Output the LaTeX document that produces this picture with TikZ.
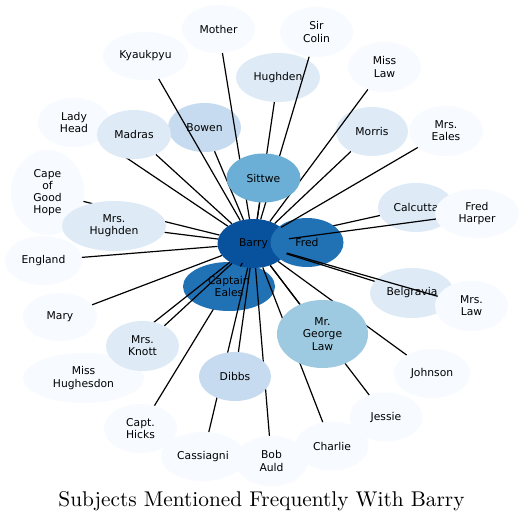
\documentclass[tikz,border=0pt]{standalone}
\usepackage{fontspec}
\usepackage{graphicx}
\usetikzlibrary{shapes.geometric}
\newfontfamily\nodefont{DejaVu Sans}
\definecolor{bA}{HTML}{08519C}
\definecolor{bB}{HTML}{2171B5}
\definecolor{bC}{HTML}{6BAED6}
\definecolor{bD}{HTML}{9ECAE1}
\definecolor{bE}{HTML}{C6DBEF}
\definecolor{bF}{HTML}{DEEBF7}
\definecolor{bG}{HTML}{F7FBFF}
\pgfdeclarelayer{back}
\pgfdeclarelayer{low}
\pgfdeclarelayer{mid}
\pgfsetlayers{back,low,mid,main}
\begin{document}
\begin{tikzpicture}[x=1bp,y=-1bp,
  nd/.style={ellipse, draw=none, inner sep=0pt, align=center,
    font=\nodefont\fontsize{10.8}{12.2}\selectfont, text=black},
  sz/.style 2 args={minimum width=#1*2bp, minimum height=#2*2bp},
  link/.style={draw=black, line width=1.2bp}]
\useasboundingbox (0,0) rectangle (524,522);
\begin{pgfonlayer}{back}
  \fill[white] (0,0) rectangle (524,522);
\end{pgfonlayer}

\begin{pgfonlayer}{low}
  \node[nd, fill=bB, sz={46}{24.5}] (captain) at (229,286.5) {Captain\\Eales};
  \node[nd, fill=bA, sz={36}{24.5}] (barry) at (253.5,243.5) {Barry};
  \node[nd, fill=bB, sz={36.5}{24.5}] (fred) at (307,242.5) {Fred};
  \node[nd, fill=bE, sz={36.5}{24.5}] (bowen) at (204.5,127.5) {Bowen};
  \node[nd, fill=bF, sz={42}{24.5}] (hughden) at (278,77.5) {Hughden};
  \node[nd, fill=bF, sz={36}{24.5}] (morris) at (372,131.5) {Morris};
  \node[nd, fill=bF, sz={38}{24.5}] (calcutta) at (416,207.5) {Calcutta};
  \node[nd, fill=bF, sz={42}{25}] (belgravia) at (412,293) {Belgravia};
  \node[nd, fill=bG, sz={42}{24.5}] (fredharper) at (477,213.5) {Fred\\Harper};
  \node[nd, fill=bG, sz={36.5}{25}] (mrslaw) at (471.5,306) {Mrs.\\Law};
  \node[nd, fill=bG, sz={36.5}{24}] (mother) at (218.5,29) {Mother};
  \node[nd, fill=bG, sz={36.5}{25}] (sircolin) at (316.5,32) {Sir\\Colin};
  \node[nd, fill=bG, sz={42.5}{24}] (kyaukpyu) at (145.5,56) {Kyaukpyu};
  \node[nd, fill=bG, sz={36.5}{25}] (misslaw) at (384.5,67) {Miss\\Law};
  \node[nd, fill=bG, sz={36}{24.5}] (ladyhead) at (74,122.5) {Lady\\Head};
  \node[nd, fill=bG, sz={37}{25}] (mrseales) at (446,131) {Mrs.\\Eales};
  \node[nd, fill=bG, sz={36.5}{42.5}] (cape) at (47.5,192.5) {Cape\\of\\Good\\Hope};
  \node[nd, fill=bG, sz={38.5}{24.5}] (england) at (43.5,260.5) {England};
  \node[nd, fill=bG, sz={37}{24}] (mary) at (60,317) {Mary};
  \node[nd, fill=bG, sz={60.5}{25}] (hughesdon) at (83.5,378) {Miss\\Hughesdon};
  \node[nd, fill=bG, sz={38}{24.5}] (johnson) at (432,373.5) {Johnson};
  \node[nd, fill=bG, sz={36.5}{24.5}] (jessie) at (386,417) {Jessie};
  \node[nd, fill=bG, sz={36.5}{24.5}] (hicks) at (140.5,428.5) {Capt.\\Hicks};
  \node[nd, fill=bG, sz={42}{24.5}] (cassiagni) at (203,456.5) {Cassiagni};
  \node[nd, fill=bG, sz={36.5}{25}] (bobauld) at (271.5,461) {Bob\\Auld};
  \node[nd, fill=bG, sz={36.5}{24.5}] (charlie) at (332,446) {Charlie};
\end{pgfonlayer}

\node[nd, fill=bF, sz={37}{24.5}] (madras) at (134,134.5) {Madras};
\node[nd, fill=bF, sz={52}{25}] (mrshughden) at (114,226) {Mrs.\\Hughden};
\node[nd, fill=bF, sz={36.5}{25}] (knott) at (142.5,346) {Mrs.\\Knott};
\node[nd, fill=bE, sz={36}{24.5}] (dibbs) at (235,376.5) {Dibbs};
\node[nd, fill=bC, sz={37}{24.5}] (sittwe) at (263.5,178) {Sittwe};
\node[nd, fill=bD, sz={45.5}{34}] (george) at (322.5,334) {Mr.\\George\\Law};

\begin{pgfonlayer}{back}
  \draw[link] (barry) -- (hicks);
  \draw[link] (barry) -- (calcutta);
  \draw[link] (barry) -- (fred);
\end{pgfonlayer}

\begin{pgfonlayer}{mid}
  \foreach \t in {mother, sircolin, hughden, kyaukpyu, misslaw, morris,
    mrseales, sittwe, bowen, madras, ladyhead, cape, mrshughden, england,
    mary, knott, hughesdon, captain, dibbs, cassiagni, bobauld, charlie,
    george, jessie, johnson, belgravia, mrslaw, fredharper}
    {\draw[link] (barry) -- (\t);}
\end{pgfonlayer}

\node[anchor=base, inner sep=0pt] (title) at (261.5,506)
  {\fontsize{10}{12}\selectfont\scalebox{2.14}{Subjects Mentioned Frequently With Barry}};
\end{tikzpicture}
\end{document}
